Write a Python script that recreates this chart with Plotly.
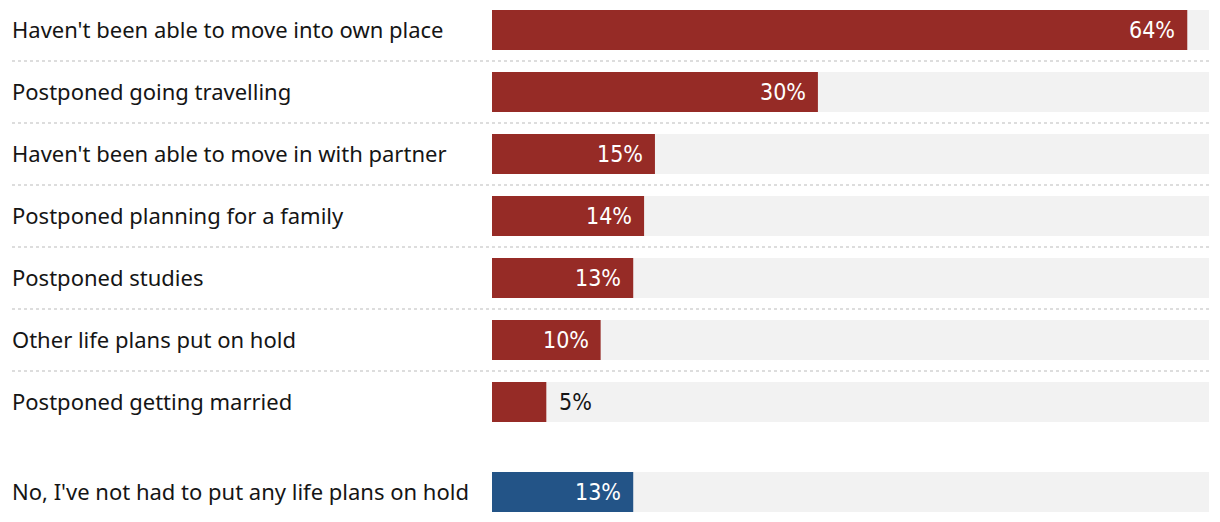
import plotly.graph_objects as go

categories = [
    "Haven't been able to move into own place",
    "Postponed going travelling",
    "Haven't been able to move in with partner",
    "Postponed planning for a family",
    "Postponed studies",
    "Other life plans put on hold",
    "Postponed getting married",
    "No, I've not had to put any life plans on hold",
]
values = [64, 30, 15, 14, 13, 10, 5, 13]
groups = ["yes", "yes", "yes", "yes", "yes", "yes", "yes", "no"]

# layout constants
W, H = 1220, 522
ML, MR = 492, 11
LABEL_X = 10
SEP_X = 12
XMAX = 66
ROW_GAP_EXTRA = 0.45
BAR_W = 0.645
RED = "#962b26"
BLUE = "#235487"
TRACK = "#f2f2f2"
SEP = "#d2d2d2"

# y positions: extra gap before the "no" group
ypos = []
p = 0.0
for i, g in enumerate(groups):
    if i > 0:
        p += 1.0
        if g != groups[i - 1]:
            p += ROW_GAP_EXTRA
    ypos.append(p)

colors = [RED if g == "yes" else BLUE for g in groups]

fig = go.Figure()
fig.add_trace(go.Bar(
    x=[XMAX] * len(values), y=ypos, orientation="h", width=BAR_W,
    marker=dict(color=TRACK, line=dict(width=0)), hoverinfo="skip", showlegend=False,
))
fig.add_trace(go.Bar(
    x=values, y=ypos, orientation="h", width=BAR_W,
    marker=dict(color=colors, line=dict(width=0)), showlegend=False,
))

plot_w = W - ML - MR
label_paper_x = (LABEL_X - ML) / plot_w
sep_paper_x = (SEP_X - ML) / plot_w

annotations = []
for cat, v, y in zip(categories, values, ypos):
    annotations.append(dict(
        x=label_paper_x, xref="paper", y=y, yref="y", text=cat, showarrow=False,
        xanchor="left", yanchor="middle", yshift=1,
        font=dict(family="Noto Sans, sans-serif", size=22, color="#151515"),
    ))
    inside = v >= 8
    annotations.append(dict(
        x=v, xref="x", y=y, yref="y", text=f"{v}%", showarrow=False,
        xanchor="right" if inside else "left", yanchor="middle",
        xshift=-10 if inside else 11,
        font=dict(family="Liberation Sans Narrow, DejaVu Sans Condensed, sans-serif",
                  size=23, color="#ffffff" if inside else "#151515"),
    ))

shapes = []
for i in range(len(groups) - 1):
    if groups[i] == groups[i + 1]:
        ymid = (ypos[i] + ypos[i + 1]) / 2
        shapes.append(dict(
            type="line", xref="paper", x0=sep_paper_x, x1=1, yref="y", y0=ymid, y1=ymid,
            line=dict(color=SEP, width=1.5, dash="dot"), layer="below",
        ))

top_pad = 30 / 62
fig.update_layout(
    width=W, height=H, barmode="overlay",
    margin=dict(l=ML, r=MR, t=0, b=0),
    plot_bgcolor="white", paper_bgcolor="white",
    xaxis=dict(range=[0, XMAX], visible=False, fixedrange=True),
    yaxis=dict(range=[ypos[-1] + top_pad, -top_pad], visible=False, fixedrange=True),
    annotations=annotations, shapes=shapes,
)

fig.write_html(
    "out.html",
    config={"displayModeBar": False},
    post_script="document.body.style.margin='0';document.body.style.overflow='hidden';",
)
